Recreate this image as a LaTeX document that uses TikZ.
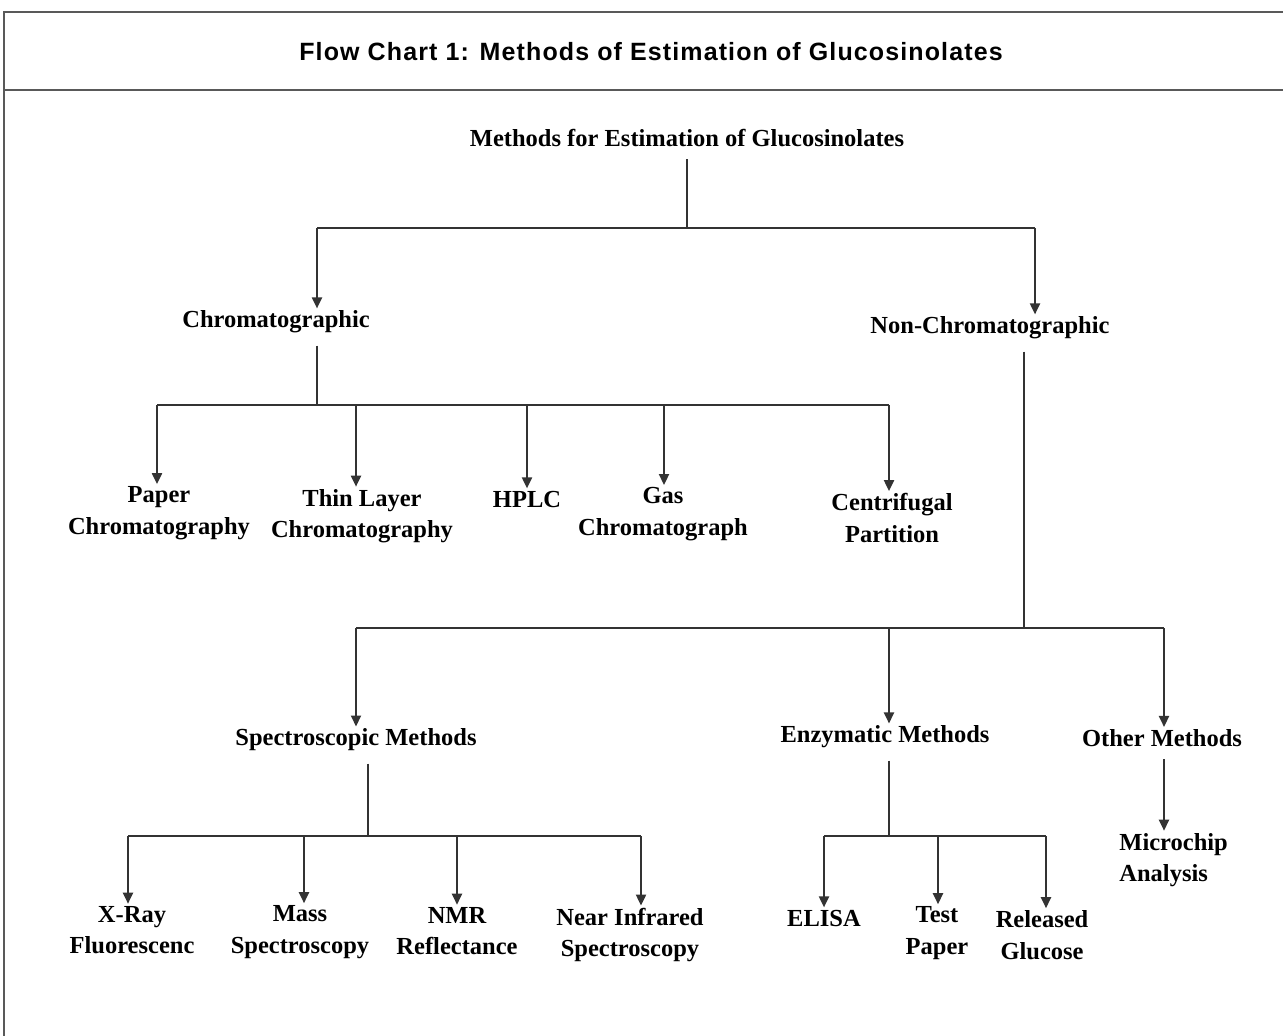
\documentclass[tikz,border=0pt]{standalone}
\usepackage{fontspec}
\setmainfont{Liberation Serif}
\newfontfamily\titlefont[LetterSpace=4.5]{Liberation Sans}
\usetikzlibrary{arrows.meta}
\tikzset{
  box/.style={font=\bfseries\fontsize{12.25}{15.75}\selectfont, align=center, inner sep=1pt},
  link/.style={draw=black!80, line width=1pt},
  arr/.style={link, -{Triangle[width=5pt,length=5.5pt]}},
  stem/.style={link, shorten <=5pt},
  frame/.style={draw=black!65, line width=1pt}
}
\begin{document}
\begin{tikzpicture}[x=0.5pt,y=-0.5pt]
\useasboundingbox (0,0) rectangle (1283,1035);
% frame and caption
\draw[frame] (1290,12) -- (4,12) -- (4,1040);
\draw[frame] (4,90) -- (1290,90);
\node[font=\titlefont\bfseries\fontsize{12.5}{14}\selectfont] (caption) at (651,52) {Flow Chart 1: Methods of Estimation of Glucosinolates};

% top level
\node[box] (root) at (687,138) {Methods for Estimation of Glucosinolates};
\node[box] (chrom) at (276,322) {Chromatographic};
\node[box] (nonchrom) at (990,328) {Non-Chromatographic};
\coordinate (dChrom) at (317,228);
\coordinate (dNon) at (1035,228);
\draw[stem] (root.south) -- (root.south |- dChrom);
\draw[link] (dChrom) -- (dNon);
\draw[arr] (dChrom) -- (dChrom |- chrom.north);
\draw[arr] (dNon) -- (dNon |- nonchrom.north);

% chromatographic methods
\node[box] (paper) at (159,513) {Paper\\Chromatography};
\node[box] (thin) at (362,516) {Thin Layer\\Chromatography};
\node[box] (hplc) at (527,499) {HPLC};
\node[box] (gas) at (663,514) {Gas\\Chromatograph};
\node[box] (cent) at (892,518) {Centrifugal\\Partition};
\coordinate (dPaper) at (157,405);
\coordinate (dThin) at (356,405);
\coordinate (dHplc) at (527,405);
\coordinate (dGas) at (664,405);
\coordinate (dCent) at (889,405);
\draw[stem] (chrom.south -| dChrom) -- (dChrom |- dPaper);
\draw[link] (dPaper) -- (dCent);
\draw[arr] (dPaper) -- (dPaper |- paper.north);
\draw[arr] (dThin) -- (dThin |- thin.north);
\draw[arr] (dHplc) -- (dHplc |- hplc.north);
\draw[arr] (dGas) -- (dGas |- gas.north);
\draw[arr] (dCent) -- (dCent |- cent.north);

% non-chromatographic methods
\node[box] (spec) at (356,740) {Spectroscopic Methods};
\node[box] (enz) at (885,737) {Enzymatic Methods};
\node[box] (other) at (1162,738) {Other Methods};
\coordinate (hNon) at (1024,628);
\coordinate (dSpec) at (356,628);
\coordinate (dEnz) at (889,628);
\coordinate (dOther) at (1164,628);
\draw[stem] (nonchrom.south -| hNon) -- (hNon);
\draw[link] (dSpec) -- (dOther);
\draw[arr] (dSpec) -- (dSpec |- spec.north);
\draw[arr] (dEnz) -- (dEnz |- enz.north);
\draw[arr] (dOther) -- (dOther |- other.north);

% spectroscopic
\node[box] (xray) at (132,930) {X-Ray\\Fluorescenc};
\node[box] (mass) at (300,932) {Mass\\Spectroscopy};
\node[box] (nmr) at (457,931) {NMR\\Reflectance};
\node[box] (nir) at (630,935) {Near Infrared\\Spectroscopy};
\coordinate (hSpec) at (368,836);
\coordinate (dXray) at (128,836);
\coordinate (dMass) at (304,836);
\coordinate (dNmr) at (457,836);
\coordinate (dNir) at (641,836);
\draw[stem] (spec.south -| hSpec) -- (hSpec);
\draw[link] (dXray) -- (dNir);
\draw[arr] (dXray) -- (dXray |- xray.north);
\draw[arr] (dMass) -- (dMass |- mass.north);
\draw[arr] (dNmr) -- (dNmr |- nmr.north);
\draw[arr] (dNir) -- (dNir |- nir.north);

% enzymatic
\node[box] (elisa) at (824,918) {ELISA};
\node[box] (test) at (937,933) {Test\\Paper};
\node[box] (rel) at (1042,935) {Released\\Glucose};
\coordinate (hEnz) at (889,836);
\coordinate (dElisa) at (824,836);
\coordinate (dTest) at (938,836);
\coordinate (dRel) at (1046,836);
\draw[stem] (enz.south -| hEnz) -- (hEnz);
\draw[link] (dElisa) -- (dRel);
\draw[arr] (dElisa) -- (dElisa |- elisa.north);
\draw[arr] (dTest) -- (dTest |- test.north);
\draw[arr] (dRel) -- (dRel |- rel.north);

% other
\node[box, align=left, anchor=west] (micro) at (1117,860) {Microchip\\Analysis};
\draw[arr, shorten <=5pt] (other.south -| dOther) -- (dOther |- micro.north);
\end{tikzpicture}
\end{document}
